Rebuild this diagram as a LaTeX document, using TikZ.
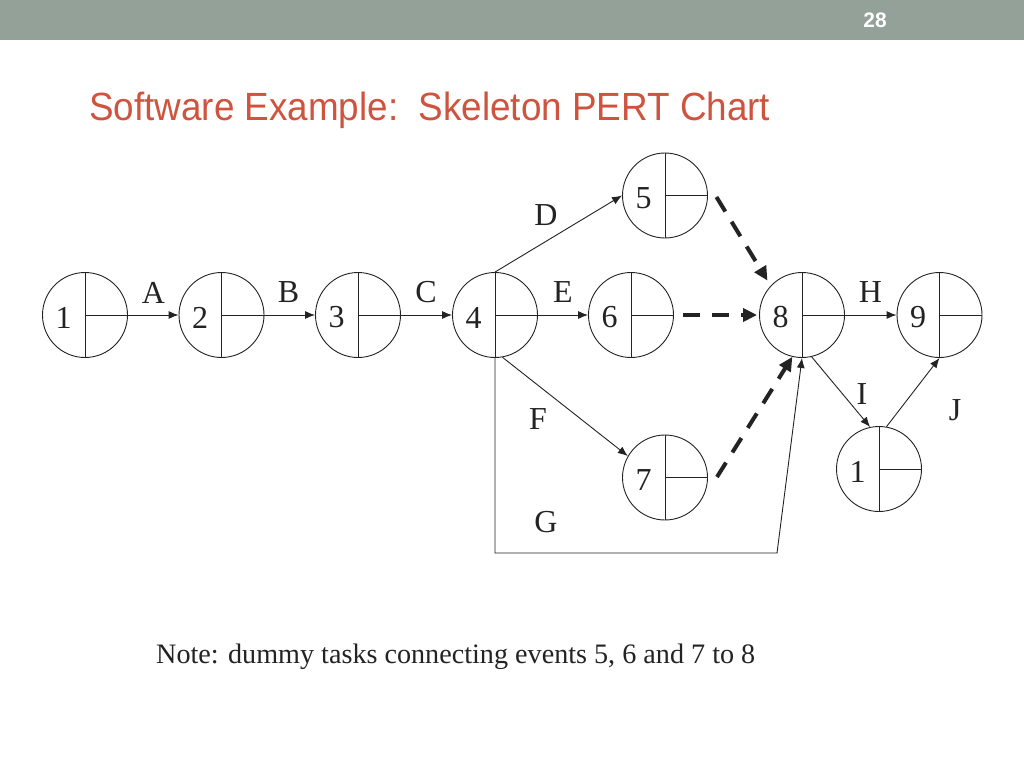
\documentclass[tikz,border=0pt]{standalone}
\usepackage{fontspec}
\setmainfont{Liberation Serif}
\newfontfamily\titlefont{Liberation Sans}
\usetikzlibrary{arrows.meta,calc}
\definecolor{barcol}{RGB}{147,161,153}
\definecolor{titlecol}{RGB}{207,84,63}
\definecolor{ink}{RGB}{35,35,35}
\newcommand\evt[4]{%
  \node[evt] (#1) at (#2,#3) {};
  \draw[inner] (#1.north) -- (#1.south) (#1.center) -- (#1.east);
  \node[num] (#1t) at ($(#1.center)+(-21.5,2.5)$) {#4};
}
\begin{document}
\begin{tikzpicture}[x=1pt,y=-1pt,
  evt/.style={circle,draw=ink,line width=0.9pt,minimum size=85pt,inner sep=0pt},
  inner/.style={draw=ink,line width=0.9pt},
  num/.style={font=\fontsize{32}{36}\selectfont,text=ink,inner sep=0pt},
  lbl/.style={font=\fontsize{32}{36}\selectfont,text=ink,inner sep=0pt},
  act/.style={draw=ink,line width=0.9pt,-{Latex[length=10pt,width=8pt]}},
  dummy/.style={draw=ink,line width=4pt,dash pattern=on 17pt off 12pt,-{Triangle[length=14pt,width=13pt]}},
]
\useasboundingbox (0,0) rectangle (1024,768);
\fill[white] (0,0) rectangle (1024,768);
\fill[barcol] (0,0) rectangle (1024,40);
\node[text=white,font=\titlefont\bfseries\fontsize{21}{22}\selectfont] (pg) at (875,20) {28};
\node[anchor=base west,inner sep=0pt,text=titlecol] (title) at (89,120)
  {\resizebox{681pt}{28.5pt}{\titlefont Software Example:\ \ Skeleton PERT Chart}};

\evt{n1}{85}{315}{1}
\evt{n2}{221.5}{315}{2}
\evt{n3}{358}{315}{3}
\evt{n4}{495}{315}{4}
\evt{n5}{665}{195.5}{5}
\evt{n6}{631}{315}{6}
\evt{n7}{665}{477.5}{7}
\evt{n8}{802}{315}{8}
\evt{n9}{939.5}{315}{9}
\evt{n10}{879}{469}{1}

% activities
\draw[act] (n1.east) -- (n2.west);
\draw[act] (n2.east) -- (n3.west);
\draw[act] (n3.east) -- (n4.west);
\draw[act] (n4.north) -- (n5.west);
\draw[act] (n4.east) -- (n6.west);
\draw[act] (n4.-80) -- (n7.150);
\coordinate (g1) at (495,553);
\coordinate (g2) at (777,553);
\draw[act] (n4.south) -- (g1) -- (g2) -- (n8.south);
\draw[act] (n8.east) -- (n9.west);
\draw[act] (n8.-77) -- (n10.102);
\draw[act] (n10.80) -- (n9.south);

% dummy tasks
\coordinate (s5) at ($(n5.east)+(8.5,1.5)$);
\coordinate (s6) at ($(n6.east)+(9,0)$);
\coordinate (s7) at ($(n7.east)+(9,-0.5)$);
\draw[dummy,shorten >=6pt] (s5) -- (n8.137);
\draw[dummy,shorten >=2pt] (s6) -- (n8.west);
\draw[dummy] (s7) -- (n8.-103);

% labels
\node[lbl] (lA) at (153.5,292.5) {A};
\node[lbl] (lB) at (288.5,292.5) {B};
\node[lbl] (lC) at (426,292.5) {C};
\node[lbl] (lD) at (546,215) {D};
\node[lbl] (lE) at (563,292.5) {E};
\node[lbl] (lF) at (538,419.5) {F};
\node[lbl] (lG) at (546,522) {G};
\node[lbl] (lH) at (870.5,292) {H};
\node[lbl] (lI) at (862,394) {I};
\node[lbl] (lJ) at (955,410) {J};

\node[anchor=base west,inner sep=0pt,text=ink] (note) at (156,663)
  {\resizebox{599pt}{!}{\fontsize{27}{30}\selectfont Note: dummy tasks connecting events 5, 6 and 7 to 8}};
\end{tikzpicture}
\end{document}
